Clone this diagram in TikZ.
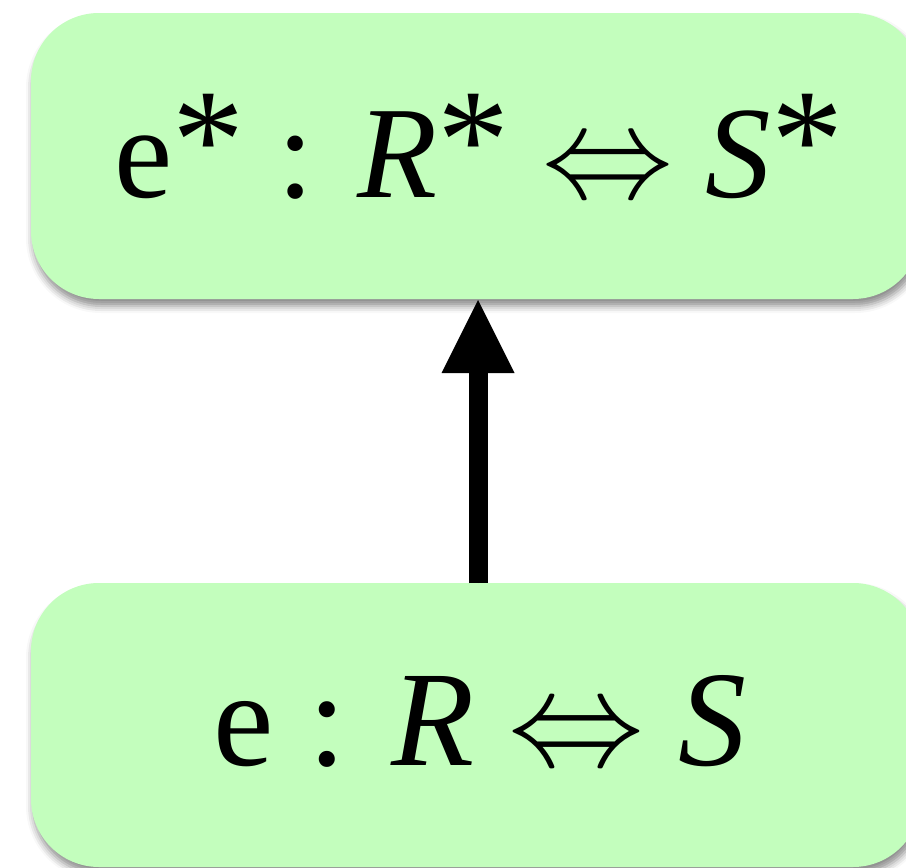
\RequirePackage{fix-cm}
\documentclass[tikz,border=0pt]{standalone}
\usepackage{fontspec}
\setmainfont{Liberation Serif}
\usetikzlibrary{shadows.blur,arrows.meta}
\definecolor{boxgreen}{RGB}{195,254,189}
\DeclareMathSizes{134}{134}{90}{70}
\DeclareMathSizes{131}{131}{90}{70}
\newcommand\myast{\raisebox{9pt}{\fontsize{144}{150}\selectfont *}}
\tikzset{
  greenbox/.style={fill=boxgreen, draw=none, rounded corners=68pt,
    blur shadow={shadow xshift=2pt, shadow yshift=-7pt, shadow blur radius=7pt, shadow opacity=45}},
  bigtext/.style={font=\fontsize{136}{150}\selectfont, inner sep=0pt, anchor=base},
  toptext/.style={font=\fontsize{131}{150}\selectfont, inner sep=0pt, anchor=base},
  uparrow/.style={line width=19pt, fill opacity=1, draw opacity=1, draw=black, fill=black,
    -{Triangle[width=73pt,length=73pt,line width=0pt,fill=black]}}
}
\begin{document}
\begin{tikzpicture}[x=1pt,y=-1pt]
\useasboundingbox (0,0) rectangle (906,868);
\begin{scope}
\path[greenbox] (31,13) rectangle (921,299);
\path[greenbox] (31,583) rectangle (921,867);
\end{scope}
\node[toptext] (top) at (479,197) {e\myast{} : \textit{R}\myast{} $\Leftrightarrow$ \textit{S}\myast};
\node[bigtext] (bot) at (480,765) {e : \textit{R} $\Leftrightarrow$ \textit{S}};
\coordinate (a) at (478,583);
\coordinate (b) at (478,300);
\draw[uparrow] (a) -- (b);
\end{tikzpicture}
\end{document}
